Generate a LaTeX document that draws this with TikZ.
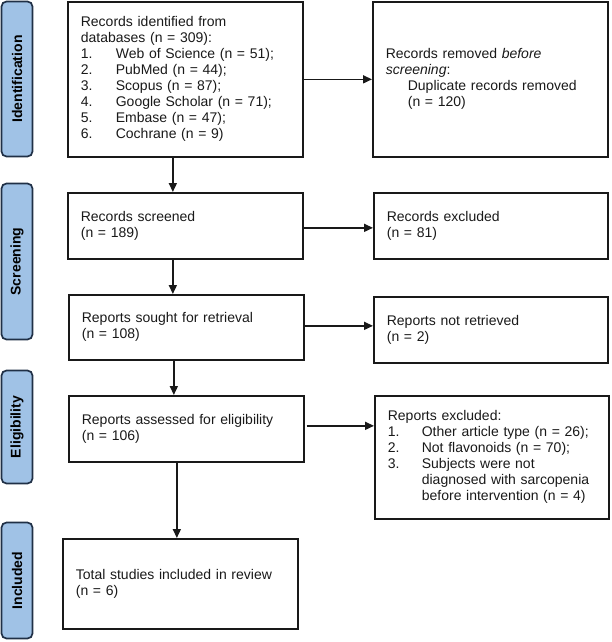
\documentclass[tikz,border=0pt]{standalone}
\usepackage{fontspec}
\setmainfont{Liberation Sans}
\usetikzlibrary{arrows.meta}
\definecolor{labfill}{RGB}{160,194,230}
\definecolor{labborder}{RGB}{32,48,70}
\definecolor{linecol}{RGB}{25,25,25}
\begin{document}
\begin{tikzpicture}[x=1pt,y=-1pt,
  box/.style={draw=linecol, line width=1.7pt, inner xsep=13pt, inner ysep=0pt,
    align=left, anchor=north west, font=\fontsize{14}{16}\selectfont, text=linecol},
  lab/.style={draw=labborder, fill=labfill, line width=1.7pt, rounded corners=5pt,
    rotate=90, inner sep=0pt, minimum height=31pt,
    font=\fontsize{14}{16}\selectfont\bfseries, text=black},
  arr/.style={draw=linecol, line width=1.6pt, -{Triangle[length=9pt,width=8pt]}}
]
\useasboundingbox (0,0) rectangle (611,642);
\newcommand{\itm}[1]{\makebox[35pt][l]{#1}}
\newcommand{\itmb}[1]{\makebox[34pt][l]{#1}}
% side labels
\node[lab, minimum width=155pt] (lid) at (17,79) {Identification};
\node[lab, minimum width=156pt] (lscr) at (17,261.5) {Screening};
\node[lab, minimum width=113pt] (lel) at (17,427) {Eligibility};
\node[lab, minimum width=116pt] (lin) at (17,580.5) {Included};
% boxes
\node[box, minimum width=235pt, minimum height=155pt, text width=209pt] (b1) at (67,1)
 {Records identified from\\databases (n = 309):\\
  \itm{1.}Web of Science (n = 51);\\
  \itm{2.}PubMed (n = 44);\\
  \itm{3.}Scopus (n = 87);\\
  \itm{4.}Google Scholar (n = 71);\\
  \itm{5.}Embase (n = 47);\\
  \itm{6.}Cochrane (n = 9)\\[-3pt]};
\node[box, minimum width=235pt, minimum height=155pt, text width=209pt] (b2) at (372,1)
 {Records removed \emph{before}\\\emph{screening}:\\
  \hspace*{22pt}Duplicate records removed\\
  \hspace*{22pt}(n = 120)\\[-6pt]};
\node[box, minimum width=235pt, minimum height=66pt, text width=209pt] (b3) at (67,192)
 {Records screened\\(n = 189)};
\node[box, minimum width=234pt, minimum height=66pt, text width=208pt] (b4) at (373,192)
 {Records excluded\\(n = 81)};
\node[box, minimum width=235pt, minimum height=65pt, text width=209pt] (b5) at (68,294)
 {Reports sought for retrieval\\(n = 108)};
\node[box, minimum width=234pt, minimum height=66pt, text width=208pt] (b6) at (373,296)
 {Reports not retrieved\\(n = 2)};
\node[box, minimum width=235pt, minimum height=66pt, text width=209pt] (b7) at (68,395)
 {Reports assessed for eligibility\\(n = 106)};
\node[box, minimum width=234pt, minimum height=123pt, text width=208pt] (b8) at (374,395)
 {Reports excluded:\\
  \itmb{1.}Other article type (n = 26);\\
  \itmb{2.}Not flavonoids (n = 70);\\
  \itmb{3.}Subjects were not\\
  \itmb{}diagnosed with sarcopenia\\
  \itmb{}before intervention (n = 4)};
\node[box, minimum width=235pt, minimum height=90pt, text width=209pt, inner xsep=13pt] (b9) at (62,538)
 {Total studies included in review\\(n = 6)};
% connectors
\draw[arr] (b1.east) -- (b2.west);
\draw[arr] ([xshift=-12.5pt]b1.south) -- ([xshift=-12.5pt]b1.south |- b3.north);
\draw[arr] ([yshift=-2pt]b3.east) -- ([yshift=-2pt]b3.east -| b4.west);
\draw[arr] ([xshift=-12.5pt]b3.south) -- ([xshift=-12.5pt]b3.south |- b5.north);
\draw[arr] ([yshift=1.5pt]b5.east) -- ([yshift=1.5pt]b5.east -| b6.west);
\draw[arr] ([xshift=-12.5pt]b5.south) -- ([xshift=-12.5pt]b5.south |- b7.north);
\draw[arr] ([xshift=2pt,yshift=3pt]b7.east) -- ([yshift=3pt]b7.east -| b8.west);
\draw[arr] ([xshift=-9.5pt]b7.south) -- ([xshift=-9.5pt]b7.south |- b9.north);
\end{tikzpicture}
\end{document}
